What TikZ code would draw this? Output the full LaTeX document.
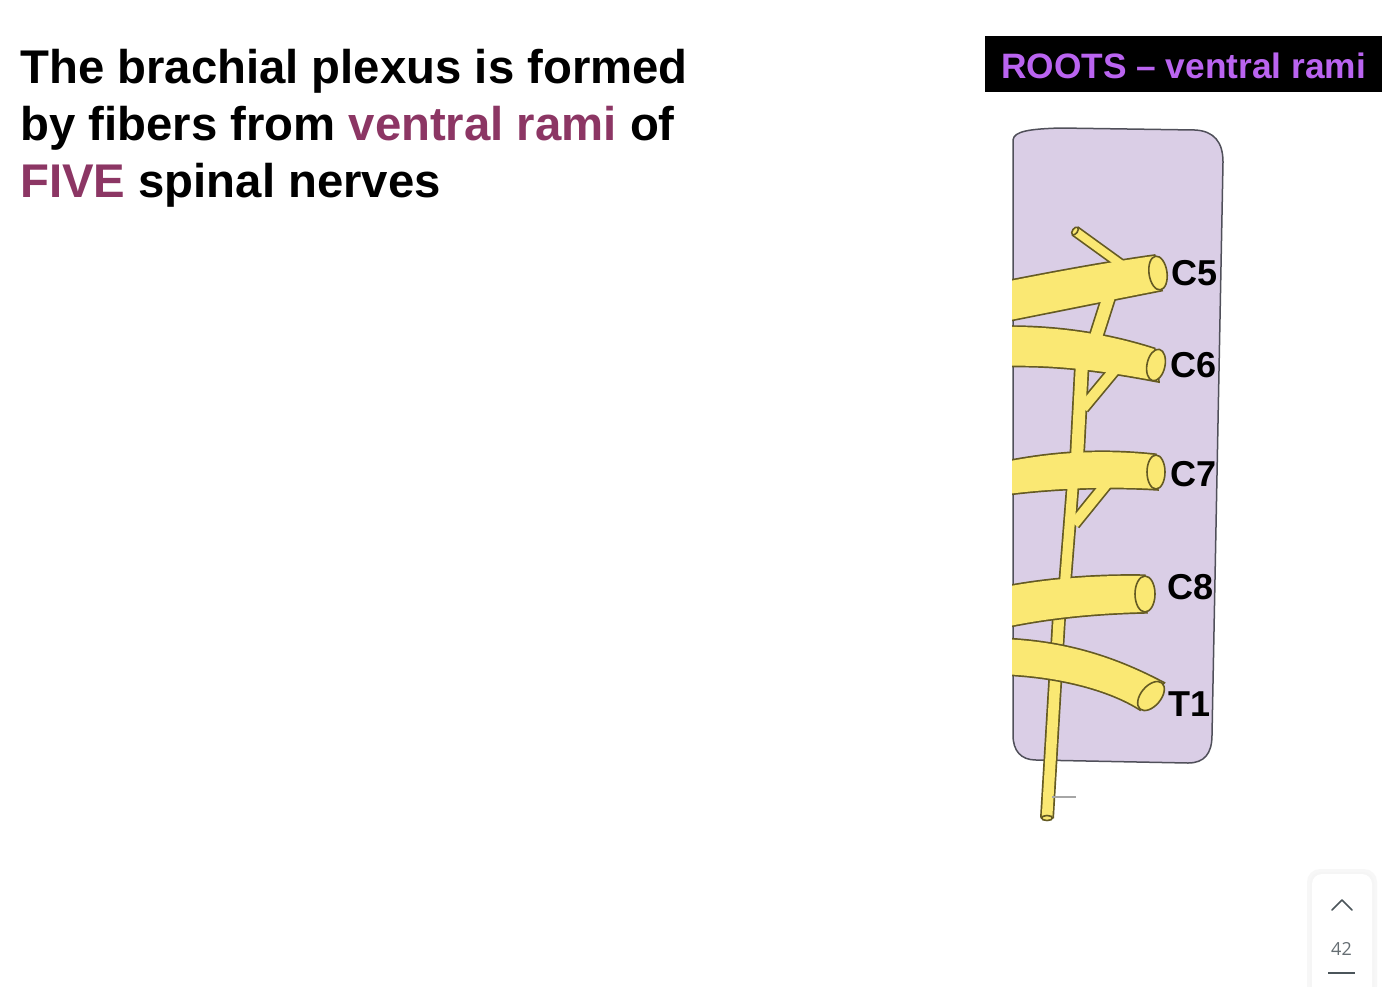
\documentclass[tikz,border=0pt]{standalone}
\usepackage{fontspec}
\setmainfont{Liberation Sans}
\newfontfamily\numfont{Open Sans}
\definecolor{titlemag}{RGB}{140,54,100}
\definecolor{rootpurple}{RGB}{186,100,240}
\definecolor{panelfill}{RGB}{218,206,230}
\definecolor{panelline}{RGB}{80,80,90}
\definecolor{nervefill}{RGB}{250,232,115}
\definecolor{nerveline}{RGB}{100,90,35}
\definecolor{widgetgray}{RGB}{75,85,90}
\newcommand\tubesAll[1]{%
  \path[#1] (1000,283) .. controls (1050,273) and (1110,262) .. (1154,256) -- (1161,290) .. controls (1110,300) and (1050,312) .. (1000,322) -- cycle;
  \path[#1] (1000,327) .. controls (1060,326) and (1110,335) .. (1154,349) -- (1158,381) .. controls (1110,372) and (1060,364) .. (1000,366) -- cycle;
  \path[#1] (1000,463) .. controls (1040,455) and (1090,448) .. (1155,455) -- (1157,489) .. controls (1110,486) and (1050,488) .. (1000,495) -- cycle;
  \path[#1] (1000,588) .. controls (1040,580) and (1090,575) .. (1144,576) -- (1146,612) .. controls (1100,613) and (1050,617) .. (1000,628) -- cycle;
  \path[#1] (1000,639) .. controls (1060,641) and (1110,655) .. (1163,683) -- (1140,709) .. controls (1110,690) and (1060,676) .. (1000,674) -- cycle;
}
\begin{document}
\begin{tikzpicture}[x=1pt,y=-1pt,
  titletext/.style={anchor=base west, inner sep=0pt, font=\fontsize{47.3}{57}\selectfont\bfseries},
  seglabel/.style={anchor=base west, inner sep=0pt, font=\fontsize{36}{40}\selectfont\bfseries},
  endcap/.style={fill=nervefill, draw=nerveline, line width=1.6pt},
  linkout/.style={draw=nerveline, line cap=butt},
  linkin/.style={draw=nervefill, line cap=butt}]
\useasboundingbox (0,0) rectangle (1384,986);
\fill[white] (0,0) rectangle (1384,986);

% panel
\filldraw[fill=panelfill, draw=panelline, line width=1.5pt]
  (1013,140) .. controls (1014,131) and (1030,129) .. (1060,128)
  -- (1195,130) .. controls (1214,131) and (1223,142) .. (1223,162)
  -- (1212,735) .. controls (1212,754) and (1204,763) .. (1188,763)
  -- (1036,760) .. controls (1021,760) and (1013,751) .. (1013,735) -- cycle;

\begin{scope}
\clip (1012,0) rectangle (1384,986);
% lower trunk, behind C8 and T1
\draw[linkout, line width=14pt] (1060,600) -- (1047,818);
\draw[linkin, line width=10.6pt] (1060,600) -- (1047,818);
\draw[endcap] (1047,818) ellipse [x radius=5.5, y radius=2.5];
\draw[gray!70, line width=1.2pt] (1052,797) -- (1076,797);
% outlines
\tubesAll{draw=nerveline, line width=3.4pt}
\draw[linkout, line width=11.4pt] (1075,231) -- (1122,265);
\draw[linkout, line width=15.4pt] (1110,293) -- (1095,340);
\draw[linkout, line width=15.4pt] (1082,362) -- (1077,458);
\draw[linkout, line width=13.4pt] (1117,367) -- (1083,408);
\draw[linkout, line width=13.4pt] (1073,482) -- (1065,583);
\draw[linkout, line width=13.4pt] (1108,482) -- (1074,524);
% fills
\tubesAll{fill=nervefill}
\draw[linkin, line width=8pt] (1075,231) -- (1122,265);
\draw[linkin, line width=12pt] (1110,293) -- (1095,340);
\draw[linkin, line width=12pt] (1082,362) -- (1077,458);
\draw[linkin, line width=10pt] (1117,367) -- (1083,408);
\draw[linkin, line width=10pt] (1073,482) -- (1065,583);
\draw[linkin, line width=10pt] (1108,482) -- (1074,524);
% end faces
\draw[endcap, rotate around={8:(1158,273)}] (1158,273) ellipse [x radius=9, y radius=17];
\draw[endcap, rotate around={-12:(1156,365)}] (1156,365) ellipse [x radius=9, y radius=16];
\draw[endcap] (1156,472) ellipse [x radius=9, y radius=17];
\draw[endcap] (1145,594) ellipse [x radius=10, y radius=18];
\draw[endcap, rotate around={50:(1151,696)}] (1151,696) ellipse [x radius=17, y radius=10];
\draw[endcap, rotate around={55:(1075,231)}] (1075,231) ellipse [x radius=4.5, y radius=2.5];
\end{scope}

% root labels
\node (c5) [seglabel] at (1171,285) {C5};
\node (c6) [seglabel] at (1170,377) {C6};
\node (c7) [seglabel] at (1170,486) {C7};
\node (c8) [seglabel] at (1167,599) {C8};
\node (t1) [seglabel] at (1168,716) {T1};

% title
\node (line1) [titletext] at (20,83.5) {The brachial plexus is formed};
\node (line2) [titletext] at (20,140.5) {by fibers from \textcolor{titlemag}{ventral rami} of};
\node (line3) [titletext] at (20,197) {\textcolor{titlemag}{FIVE} spinal nerves};

% header box
\node (rootsbox) [fill=black, inner sep=0pt, minimum width=397pt, minimum height=56pt] at (1183.5,64) {};
\node (rootstext) [anchor=base, inner sep=0pt, text=rootpurple, font=\fontsize{35.3}{40}\selectfont\bfseries] at (1183.5,78) {ROOTS – ventral rami};

% page widget
\fill[black!3, rounded corners=13pt] (1307,869) rectangle (1377,1000);
\fill[black!4, rounded corners=11pt] (1310,872) rectangle (1374,1000);
\fill[white, rounded corners=10pt] (1312,874) rectangle (1372,1000);
\draw[widgetgray, line width=1.5pt, line cap=round, line join=round] (1332,910) -- (1342,900) -- (1352,910);
\node (pagenum) [anchor=base, inner sep=0pt, text=widgetgray!85, font=\numfont\fontsize{18}{20}\selectfont] at (1341.5,955) {42};
\draw[widgetgray, line width=2pt] (1328,972.5) -- (1355,972.5);
\end{tikzpicture}
\end{document}
